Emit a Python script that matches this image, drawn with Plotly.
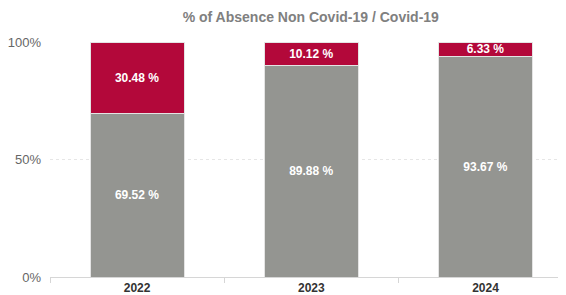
import plotly.graph_objects as go

years = ["2022", "2023", "2024"]
non_covid = [69.52, 89.88, 93.67]
covid = [30.48, 10.12, 6.33]
y_ticks = [0, 50, 100]
y_tick_labels = ["0%", "50%", "100%"]

GRAY = "#949591"
RED = "#B3083A"
W, H = 558, 287

fig = go.Figure()
fig.add_trace(go.Bar(
    x=years, y=non_covid, name="Non Covid-19",
    marker=dict(color=GRAY, line=dict(color="#e4e4e4", width=1)),
    text=[f"{v:.2f} %" for v in non_covid],
    textposition="inside", insidetextanchor="middle",
    textfont=dict(color="white", size=12, family="Liberation Sans, Arial", weight="bold"),
    width=0.54,
))
fig.add_trace(go.Bar(
    x=years, y=covid, name="Covid-19",
    marker=dict(color=RED, line=dict(color="#e4e4e4", width=1)),
    text=[f"{v:.2f} %" for v in covid],
    textposition="inside", insidetextanchor="middle",
    textfont=dict(color="white", size=12, family="Liberation Sans, Arial", weight="bold"),
    width=0.54,
))

fig.update_layout(
    width=W, height=H,
    barmode="stack",
    showlegend=False,
    plot_bgcolor="white", paper_bgcolor="white",
    margin=dict(l=42, r=0, t=34, b=18),
    uniformtext=dict(minsize=12, mode="show"),
    font=dict(family="Liberation Sans, Arial", color="#666666"),
    title=dict(
        text="<b>% of Absence Non Covid-19 / Covid-19</b>",
        x=282/W, xanchor="center", xref="paper",
        y=1 - 9/H, yanchor="middle", yref="container",
        font=dict(size=14, color="#808080", family="Liberation Sans, Arial"),
    ),
    xaxis=dict(
        type="category",
        range=[-0.5, 2.462],
        tickson="boundaries",
        ticks="outside", ticklen=5, tickcolor="#d6d6d6",
        showline=True, linecolor="#d6d6d6", linewidth=1,
        showgrid=False,
        tickfont=dict(size=12, color="#333333", family="Liberation Sans, Arial", weight="bold"),
    ),
    yaxis=dict(
        range=[0, 100],
        tickvals=y_ticks, ticktext=y_tick_labels,
        showgrid=True, gridcolor="#e6e6e6", griddash="dot", gridwidth=1,
        zeroline=False,
        tickfont=dict(size=13, color="#666666", family="Liberation Sans, Arial"),
        ticks="", ticklabelstandoff=8,
    ),
)

fig.write_html("out.html")
